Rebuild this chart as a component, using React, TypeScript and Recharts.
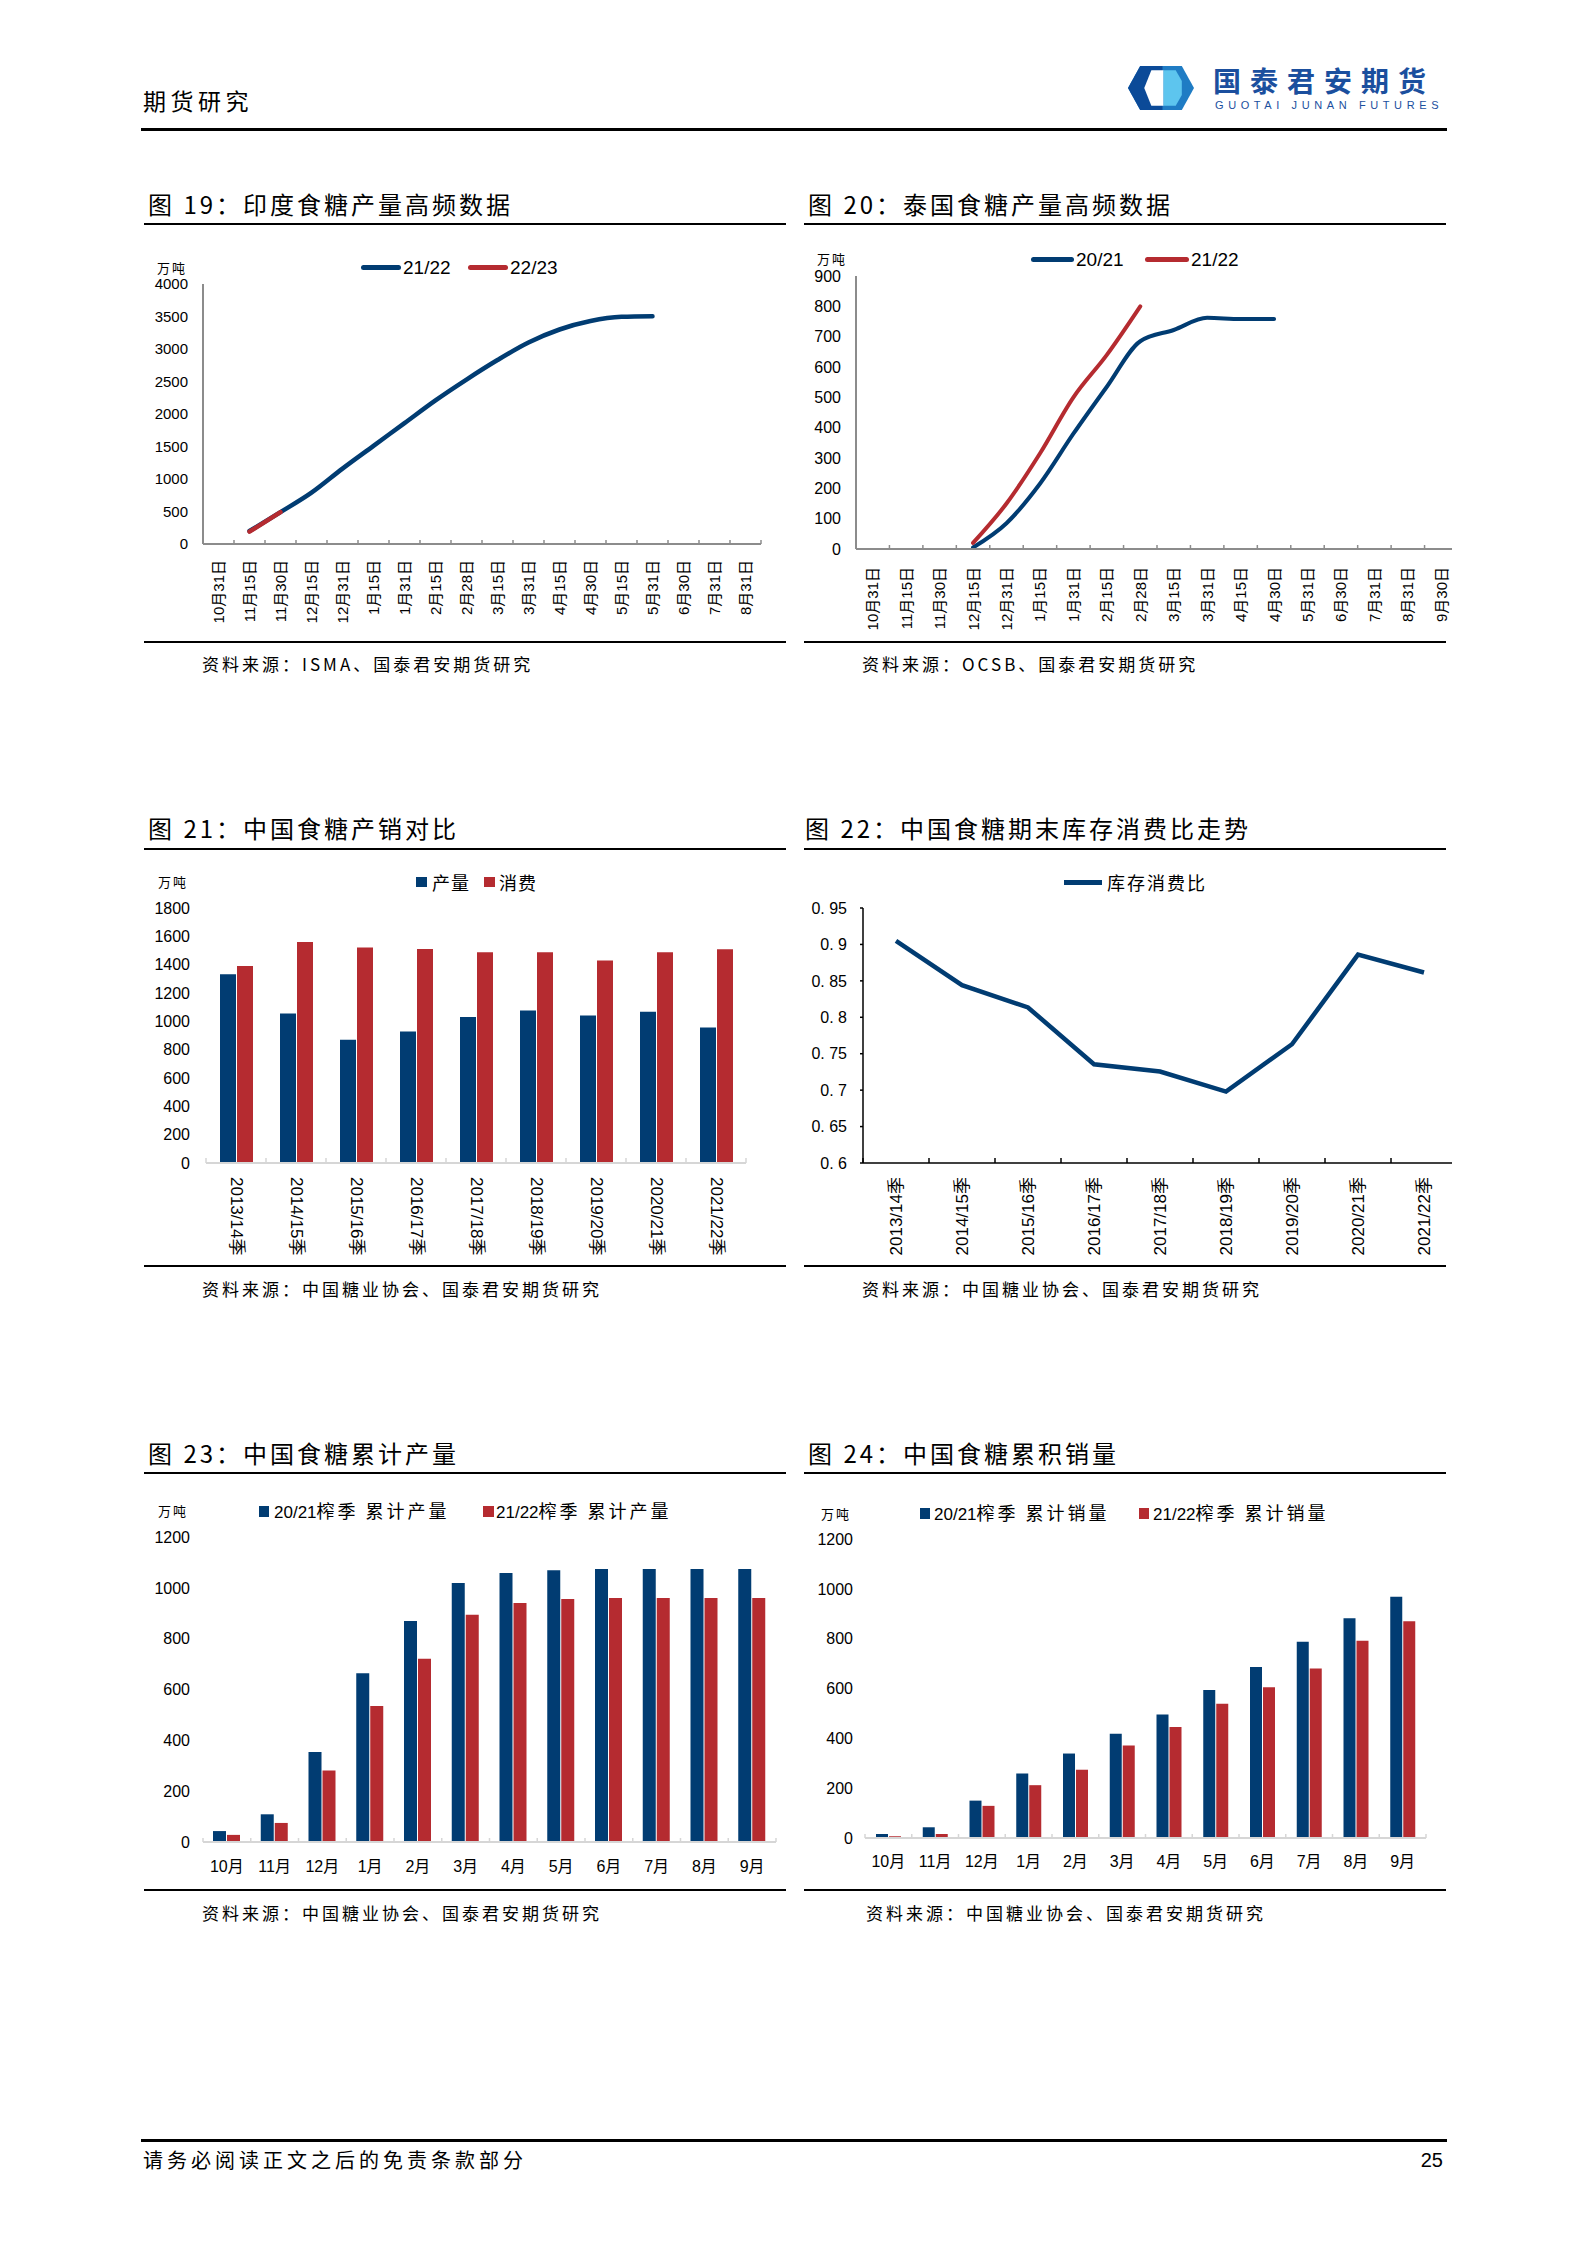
import React from 'react';
import { LineChart, Line, BarChart, Bar, XAxis, YAxis } from 'recharts';

const BLUE = '#013C72';
const RED = '#B52B30';
const NUM_FONT = "'Liberation Sans', Arial, 'Noto Sans CJK SC', sans-serif";
const CJK_FONT = "'Noto Sans CJK SC', sans-serif";

// 图19 印度
const indiaDates = ['10月31日', '11月15日', '11月30日', '12月15日', '12月31日', '1月15日', '1月31日', '2月15日', '2月28日', '3月15日', '3月31日', '4月15日', '4月30日', '5月15日', '5月31日', '6月30日', '7月31日', '8月31日'];
const india2122 = [null, 200, 490, 790, 1160, 1510, 1860, 2210, 2530, 2830, 3100, 3300, 3430, 3495, 3505, null, null, null];
const india2223 = [null, 190, 490, null, null, null, null, null, null, null, null, null, null, null, null, null, null, null];
const indiaTicks = [0, 500, 1000, 1500, 2000, 2500, 3000, 3500, 4000];

// 图20 泰国
const thaiDates = ['10月31日', '11月15日', '11月30日', '12月15日', '12月31日', '1月15日', '1月31日', '2月15日', '2月28日', '3月15日', '3月31日', '4月15日', '4月30日', '5月31日', '6月30日', '7月31日', '8月31日', '9月30日'];
const thai2021 = [null, null, null, 5, 85, 215, 380, 535, 685, 722, 762, 758, 758, null, null, null, null, null];
const thai2122 = [null, null, null, 20, 150, 315, 500, 640, 800, null, null, null, null, null, null, null, null, null];
const thaiTicks = [0, 100, 200, 300, 400, 500, 600, 700, 800, 900];

// 图21 产销对比
const seasons = ['2013/14季', '2014/15季', '2015/16季', '2016/17季', '2017/18季', '2018/19季', '2019/20季', '2020/21季', '2021/22季'];
const output = [1333, 1056, 870, 929, 1031, 1076, 1042, 1067, 956];
const consumption = [1390, 1560, 1522, 1510, 1488, 1488, 1430, 1488, 1508];
const balanceTicks = [0, 200, 400, 600, 800, 1000, 1200, 1400, 1600, 1800];

// 图22 库存消费比
const stockRatio = [0.905, 0.844, 0.8135, 0.7355, 0.7255, 0.698, 0.763, 0.886, 0.8615];
const ratioTicks = [0.6, 0.65, 0.7, 0.75, 0.8, 0.85, 0.9, 0.95];

// 图23 / 图24 累计
const months = ['10月', '11月', '12月', '1月', '2月', '3月', '4月', '5月', '6月', '7月', '8月', '9月'];
const prod2021 = [43, 109, 354, 664, 870, 1019, 1058, 1069, 1074, 1074, 1074, 1074];
const prod2122 = [28, 75, 281, 535, 721, 894, 940, 956, 960, 960, 960, 960];
const sales2021 = [16, 43, 150, 259, 339, 418, 496, 594, 686, 788, 882, 968];
const sales2122 = [7, 16, 129, 212, 274, 371, 445, 539, 605, 680, 792, 870];
const cumTicks = [0, 200, 400, 600, 800, 1000, 1200];

const indiaRows = indiaDates.map((d, i) => ({ d, a: india2122[i], b: india2223[i] }));
const thaiRows = thaiDates.map((d, i) => ({ d, a: thai2021[i], b: thai2122[i] }));
const balanceRows = seasons.map((d, i) => ({ d, a: output[i], b: consumption[i] }));
const ratioRows = seasons.map((d, i) => ({ d, a: stockRatio[i] }));
const prodRows = months.map((d, i) => ({ d, a: prod2021[i], b: prod2122[i] }));
const salesRows = months.map((d, i) => ({ d, a: sales2021[i], b: sales2122[i] }));

type TickOpts = {
  mode: 'up' | 'down' | 'flat';
  gap: number;
  size: number;
  band: number;
  tickColor: string;
  tickLen: number;
};

// category label at the band centre, tick mark on the band boundary
const bandTick = (o: TickOpts) => (props: any) => {
  const { x, y, payload, index } = props;
  const half = payload && payload.offset ? payload.offset : o.band / 2;
  const ay = y + o.gap;
  let label;
  if (o.mode === 'up') {
    label = (
      <text x={x} y={ay} transform={`rotate(-90 ${x} ${ay})`} textAnchor="end" dominantBaseline="central"
        fontSize={o.size} fontFamily={NUM_FONT} fill="#000">{payload.value}</text>
    );
  } else if (o.mode === 'down') {
    label = (
      <text x={x} y={ay} transform={`rotate(90 ${x} ${ay})`} textAnchor="start" dominantBaseline="central"
        fontSize={o.size} fontFamily={NUM_FONT} fill="#000">{payload.value}</text>
    );
  } else {
    label = (
      <text x={x} y={ay} textAnchor="middle" dominantBaseline="central" fontSize={o.size} fontFamily={NUM_FONT} fill="#000">{payload.value}</text>
    );
  }
  return (
    <g>
      {label}
      <line x1={x + half} x2={x + half} y1={y} y2={y - o.tickLen} stroke={o.tickColor} strokeWidth={1.5} />
      {index === 0 && <line x1={x - half} x2={x - half} y1={y} y2={y - o.tickLen} stroke={o.tickColor} strokeWidth={1.5} />}
    </g>
  );
};

const Txt = ({ x, y, size, children, spacing = 0, family = CJK_FONT, color = '#000', weight = 400, right = false }: any) => (
  <div style={{
    position: 'absolute', left: right ? undefined : x, right: right ? 1586 - x : undefined, top: y,
    transform: 'translateY(-50%)', fontSize: size, lineHeight: 1, letterSpacing: spacing,
    fontFamily: family, color, fontWeight: weight, whiteSpace: 'nowrap',
  }}>{children}</div>
);

const HLine = ({ x1, x2, y, h = 2, color = '#000' }: any) => (
  <div style={{ position: 'absolute', left: x1, width: x2 - x1, top: y - h / 2, height: h, background: color }} />
);

const Swatch = ({ x, y, w, h, color, r = 0 }: any) => (
  <div style={{ position: 'absolute', left: x, top: y - h / 2, width: w, height: h, background: color, borderRadius: r }} />
);

const Box = ({ x, y, w, children }: any) => (
  <div style={{ position: 'absolute', left: x, top: y, width: w, overflow: 'hidden' }}>{children}</div>
);

const Logo = () => (
  <svg width={66} height={44} viewBox="0 0 65 41" preserveAspectRatio="none" style={{ position: 'absolute', left: 1128, top: 66 }}>
    <polygon points="0,20.5 12,0 53,0 65,20.5 53,41 12,41" fill="#1F7CC4" />
    <polygon points="0,20.5 12,0 34,0 34,41 12,41" fill="#0B4A98" />
    <polygon points="16,20.5 23,4 35,4 35,37 23,37" fill="#ffffff" />
    <polygon points="35,4 47,4 53,14 53,27 47,37 35,37" fill="#5DC5EE" />
  </svg>
);

const SRC_ASSOC = '资料来源：中国糖业协会、国泰君安期货研究';

export default function App() {
  const grayAxis = { stroke: '#8C8C8C', strokeWidth: 2 };
  const lightAxis = { stroke: '#D6D6D6', strokeWidth: 2 };
  const blackAxis = { stroke: '#000', strokeWidth: 1.5 };
  const yTick = (size: number) => ({ fill: '#000', fontSize: size, fontFamily: NUM_FONT });

  return (
    <div style={{ position: 'absolute', left: 0, top: 0, width: 1586, height: 2245, background: '#fff', fontFamily: CJK_FONT, overflow: 'hidden' }}>
      {/* header */}
      <Txt x={143} y={100} size={23} spacing={4.5}>期货研究</Txt>
      <Logo />
      <Txt x={1213} y={80} size={28} spacing={9} weight={700} color="#1B4F9E">国泰君安期货</Txt>
      <Txt x={1215} y={105} size={11} spacing={4.6} family={NUM_FONT} color="#1B4F9E">GUOTAI JUNAN FUTURES</Txt>
      <HLine x1={141} x2={1447} y={129} h={3} />

      {/* row 1 titles */}
      <Txt x={148} y={204} size={24} spacing={3}>图 19：印度食糖产量高频数据</Txt>
      <Txt x={808} y={204} size={24} spacing={3}>图 20：泰国食糖产量高频数据</Txt>
      <HLine x1={144} x2={786} y={224} />
      <HLine x1={804} x2={1446} y={224} />

      {/* chart 19 */}
      <Txt x={157} y={267} size={13} spacing={2}>万吨</Txt>
      <Swatch x={361} y={267} w={40} h={5} color={BLUE} r={3} />
      <Txt x={403} y={267} size={19} family={NUM_FONT}>21/22</Txt>
      <Swatch x={468} y={267} w={40} h={5} color={RED} r={3} />
      <Txt x={510} y={267} size={19} family={NUM_FONT}>22/23</Txt>
      <Box x={144} y={228} w={640}>
        <LineChart width={640} height={412} data={indiaRows} margin={{ top: 56, right: 23, bottom: 0, left: 0 }}>
          <XAxis dataKey="d" scale="band" height={96} interval={0} tickSize={0} tickMargin={0} axisLine={grayAxis} tickLine={false}
            tick={bandTick({ mode: 'up', gap: 16, size: 15, band: 31, tickColor: '#8C8C8C', tickLen: 4 })} />
          <YAxis width={59} domain={[0, 4000]} ticks={indiaTicks} interval={0} axisLine={grayAxis} tickLine={false}
            tickSize={0} tickMargin={15} tick={yTick(15)} />
          <Line dataKey="a" type="monotone" stroke={BLUE} strokeWidth={4.5} dot={false} activeDot={false} strokeLinecap="round" isAnimationActive={false} />
          <Line dataKey="b" type="monotone" stroke={RED} strokeWidth={4.5} dot={false} activeDot={false} strokeLinecap="round" isAnimationActive={false} />
        </LineChart>
      </Box>
      <HLine x1={144} x2={786} y={642} />
      <Txt x={202} y={663} size={17} spacing={3}>资料来源：ISMA、国泰君安期货研究</Txt>

      {/* chart 20 */}
      <Txt x={817} y={258} size={13} spacing={2}>万吨</Txt>
      <Swatch x={1031} y={259} w={43} h={5} color={BLUE} r={3} />
      <Txt x={1076} y={259} size={19} family={NUM_FONT}>20/21</Txt>
      <Swatch x={1145} y={259} w={44} h={5} color={RED} r={3} />
      <Txt x={1191} y={259} size={19} family={NUM_FONT}>21/22</Txt>
      <Box x={806} y={228} w={646}>
        <LineChart width={656} height={412} data={thaiRows} margin={{ top: 48, right: 4, bottom: 0, left: 0 }}>
          <XAxis dataKey="d" scale="band" height={91} interval={0} tickSize={0} tickMargin={0} axisLine={grayAxis} tickLine={false}
            tick={bandTick({ mode: 'up', gap: 18, size: 15, band: 33.4, tickColor: '#8C8C8C', tickLen: 4 })} />
          <YAxis width={50} domain={[0, 900]} ticks={thaiTicks} interval={0} axisLine={grayAxis} tickLine={false}
            tickSize={0} tickMargin={15} tick={yTick(16)} />
          <Line dataKey="a" type="monotone" stroke={BLUE} strokeWidth={4} dot={false} activeDot={false} strokeLinecap="round" isAnimationActive={false} />
          <Line dataKey="b" type="monotone" stroke={RED} strokeWidth={4} dot={false} activeDot={false} strokeLinecap="round" isAnimationActive={false} />
        </LineChart>
      </Box>
      <HLine x1={804} x2={1446} y={642} />
      <Txt x={862} y={663} size={17} spacing={3}>资料来源：OCSB、国泰君安期货研究</Txt>

      {/* row 2 titles */}
      <Txt x={148} y={828} size={24} spacing={3}>图 21：中国食糖产销对比</Txt>
      <Txt x={805} y={828} size={24} spacing={3}>图 22：中国食糖期末库存消费比走势</Txt>
      <HLine x1={144} x2={786} y={849} />
      <HLine x1={804} x2={1446} y={849} />

      {/* chart 21 */}
      <Txt x={158} y={881} size={13} spacing={2}>万吨</Txt>
      <Swatch x={416} y={882} w={11} h={10} color={BLUE} />
      <Txt x={432} y={882} size={18} spacing={1}>产量</Txt>
      <Swatch x={484} y={882} w={11} h={10} color={RED} />
      <Txt x={499} y={882} size={18} spacing={1}>消费</Txt>
      <Box x={144} y={853} w={640}>
        <BarChart width={640} height={409} data={balanceRows} margin={{ top: 55, right: 38, bottom: 0, left: 0 }} barSize={16} barGap={1}>
          <XAxis dataKey="d" height={99} interval={0} tickSize={0} tickMargin={0} axisLine={lightAxis} tickLine={false}
            tick={bandTick({ mode: 'down', gap: 14, size: 17, band: 60, tickColor: '#D6D6D6', tickLen: 5 })} />
          <YAxis width={62} domain={[0, 1800]} ticks={balanceTicks} interval={0} axisLine={false} tickLine={false}
            tickSize={0} tickMargin={16} tick={yTick(16)} />
          <Bar dataKey="a" fill={BLUE} isAnimationActive={false} />
          <Bar dataKey="b" fill={RED} isAnimationActive={false} />
        </BarChart>
      </Box>
      <HLine x1={144} x2={786} y={1266} />
      <Txt x={202} y={1288} size={17} spacing={3}>{SRC_ASSOC}</Txt>

      {/* chart 22 */}
      <Swatch x={1064} y={882} w={38} h={5} color={BLUE} />
      <Txt x={1107} y={882} size={18} spacing={2}>库存消费比</Txt>
      <Box x={806} y={853} w={646}>
        <LineChart width={654} height={409} data={ratioRows} margin={{ top: 55, right: 3, bottom: 0, left: 0 }}>
          <XAxis dataKey="d" scale="band" height={99} interval={0} tickSize={0} tickMargin={0} axisLine={blackAxis} tickLine={false}
            tick={bandTick({ mode: 'up', gap: 14, size: 17, band: 66, tickColor: '#000', tickLen: 5 })} />
          <YAxis width={57} domain={[0.6, 0.95]} ticks={ratioTicks} interval={0} axisLine={blackAxis}
            tickLine={{ stroke: '#000', strokeWidth: 1.5 }} tickSize={3} tickMargin={13} tick={yTick(16)}
            tickFormatter={(v: number) => String(Math.round(v * 100) / 100).replace('0.', '0. ')} />
          <Line dataKey="a" type="linear" stroke={BLUE} strokeWidth={4.5} dot={false} activeDot={false} isAnimationActive={false} />
        </LineChart>
      </Box>
      <HLine x1={804} x2={1446} y={1266} />
      <Txt x={862} y={1288} size={17} spacing={3}>{SRC_ASSOC}</Txt>

      {/* row 3 titles */}
      <Txt x={148} y={1453} size={24} spacing={3}>图 23：中国食糖累计产量</Txt>
      <Txt x={808} y={1453} size={24} spacing={3}>图 24：中国食糖累积销量</Txt>
      <HLine x1={144} x2={786} y={1473} />
      <HLine x1={804} x2={1446} y={1473} />

      {/* chart 23 */}
      <Txt x={158} y={1510} size={13} spacing={2}>万吨</Txt>
      <Swatch x={259} y={1511} w={10} h={11} color={BLUE} />
      <Txt x={274} y={1511} size={18}><span style={{ fontFamily: NUM_FONT, fontSize: 17 }}>20/21</span><span style={{ letterSpacing: 3 }}>榨季 累计产量</span></Txt>
      <Swatch x={483} y={1511} w={11} h={11} color={RED} />
      <Txt x={496} y={1511} size={18}><span style={{ fontFamily: NUM_FONT, fontSize: 17 }}>21/22</span><span style={{ letterSpacing: 3 }}>榨季 累计产量</span></Txt>
      <Box x={144} y={1478} w={640}>
        <BarChart width={640} height={407} data={prodRows} margin={{ top: 59, right: 8, bottom: 0, left: 0 }} barSize={13} barGap={1}>
          <XAxis dataKey="d" height={43} interval={0} tickSize={0} tickMargin={0} axisLine={lightAxis} tickLine={false}
            tick={bandTick({ mode: 'flat', gap: 24, size: 16, band: 47.75, tickColor: '#D6D6D6', tickLen: 4 })} />
          <YAxis width={59} domain={[0, 1200]} ticks={cumTicks} interval={0} axisLine={false} tickLine={false}
            tickSize={0} tickMargin={13} tick={yTick(16)} />
          <Bar dataKey="a" fill={BLUE} isAnimationActive={false} />
          <Bar dataKey="b" fill={RED} isAnimationActive={false} />
        </BarChart>
      </Box>
      <HLine x1={144} x2={786} y={1890} />
      <Txt x={202} y={1912} size={17} spacing={3}>{SRC_ASSOC}</Txt>

      {/* chart 24 */}
      <Txt x={821} y={1513} size={13} spacing={2}>万吨</Txt>
      <Swatch x={920} y={1513} w={10} h={11} color={BLUE} />
      <Txt x={934} y={1513} size={18}><span style={{ fontFamily: NUM_FONT, fontSize: 17 }}>20/21</span><span style={{ letterSpacing: 3 }}>榨季 累计销量</span></Txt>
      <Swatch x={1139} y={1513} w={10} h={11} color={RED} />
      <Txt x={1153} y={1513} size={18}><span style={{ fontFamily: NUM_FONT, fontSize: 17 }}>21/22</span><span style={{ letterSpacing: 3 }}>榨季 累计销量</span></Txt>
      <Box x={806} y={1478} w={642}>
        <BarChart width={640} height={407} data={salesRows} margin={{ top: 61, right: 20, bottom: 0, left: 0 }} barSize={12} barGap={1}>
          <XAxis dataKey="d" height={47} interval={0} tickSize={0} tickMargin={0} axisLine={lightAxis} tickLine={false}
            tick={bandTick({ mode: 'flat', gap: 23, size: 16, band: 46.75, tickColor: '#D6D6D6', tickLen: 4 })} />
          <YAxis width={59} domain={[0, 1200]} ticks={cumTicks} interval={0} axisLine={false} tickLine={false}
            tickSize={0} tickMargin={12} tick={yTick(16)} />
          <Bar dataKey="a" fill={BLUE} isAnimationActive={false} />
          <Bar dataKey="b" fill={RED} isAnimationActive={false} />
        </BarChart>
      </Box>
      <HLine x1={804} x2={1446} y={1890} />
      <Txt x={866} y={1912} size={17} spacing={3}>{SRC_ASSOC}</Txt>

      {/* footer */}
      <HLine x1={141} x2={1447} y={2140} h={3} />
      <Txt x={143} y={2160} size={20} spacing={4}>请务必阅读正文之后的免责条款部分</Txt>
      <Txt x={1443} y={2160} size={20} family={NUM_FONT} right>25</Txt>
    </div>
  );
}
